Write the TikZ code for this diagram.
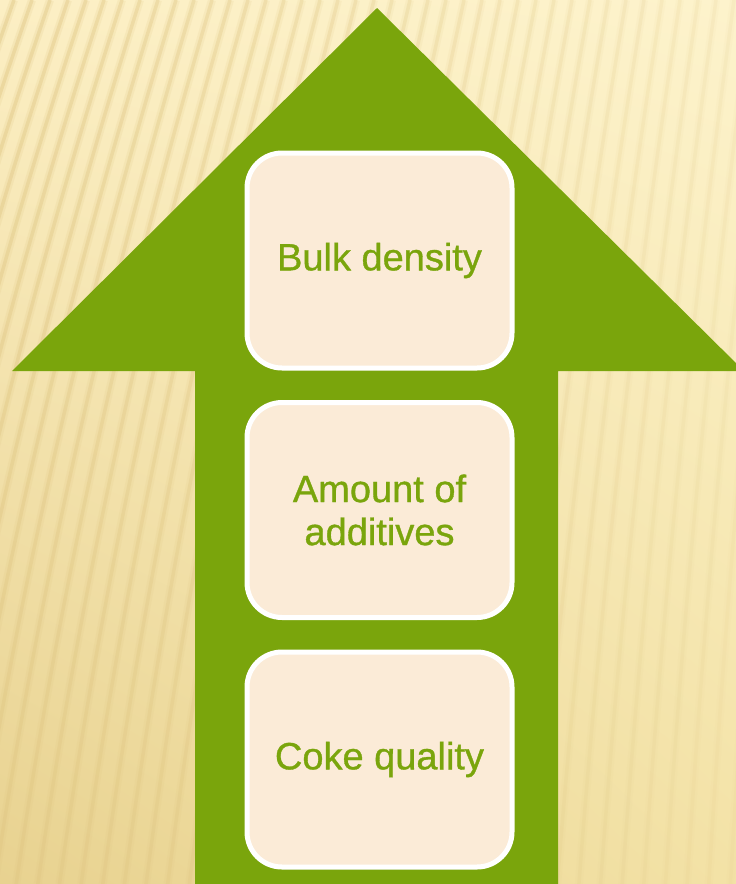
\documentclass[tikz,border=0pt]{standalone}
\usepackage{fontspec}
\setmainfont{Liberation Sans}
\newfontfamily\cardfont{Liberation Sans}[FakeBold=0.9]
\usetikzlibrary{shadings}
\definecolor{leafgreen}{RGB}{122,165,12}
\definecolor{cardfill}{RGB}{251,235,215}
\definecolor{creamA}{RGB}{252,239,196}
\definecolor{creamB}{RGB}{253,243,204}
\definecolor{creamC}{RGB}{232,210,144}
\definecolor{creamD}{RGB}{243,226,166}
\definecolor{ridge}{RGB}{222,196,128}
\tikzset{
  card/.style={rectangle, rounded corners=35pt, draw=white, line width=5pt,
    fill=cardfill, minimum width=265pt, minimum height=215pt,
    text=leafgreen, align=center, font=\cardfont\fontsize{38}{43}\selectfont},
  arrowbody/.style={fill=leafgreen},
}
\begin{document}
\begin{tikzpicture}[x=1pt,y=-1pt]
  \useasboundingbox (0,0) rectangle (736,884);
  % textured paper background
  \begin{scope}
    \clip (0,0) rectangle (736,884);
    \shade[upper left=creamA, upper right=creamB, lower left=creamC, lower right=creamD]
      (0,0) rectangle (736,884);
    \foreach \a in {-400,-382,...,900} {
      \pgfmathsetmacro{\st}{-0.36+0.0003*\a}
      \pgfmathsetmacro{\cx}{\a+\st*294.7}
      \pgfmathsetmacro{\ex}{\a+\st*0.75*884}
      \pgfmathsetmacro{\fx}{\ex+(\a+\st*442-\ex)*2/3}
      \pgfmathsetmacro{\op}{max(0.08,min(0.42,0.40-0.0004*\a))}
      \draw[ridge, line width=8pt, opacity=\op*0.45]
        (\a,0) .. controls (\cx,294.7) and (\fx,589.3) .. (\ex,884);
      \draw[ridge, line width=3.5pt, opacity=\op]
        (\a,0) .. controls (\cx,294.7) and (\fx,589.3) .. (\ex,884);
    }
    % green upward arrow
    \path[arrowbody] (195,884) -- (195,371) -- (12,371) -- (377,8)
      -- (744,371) -- (558,371) -- (558,884) -- cycle;
  \end{scope}
  % stacked factor cards
  \node[card] (bulk) at (379.5,260.5) {Bulk density};
  \node[card] (additives) at (379.5,510) {Amount of\\additives};
  \node[card] (coke) at (379.5,759.5) {Coke quality};
\end{tikzpicture}
\end{document}
